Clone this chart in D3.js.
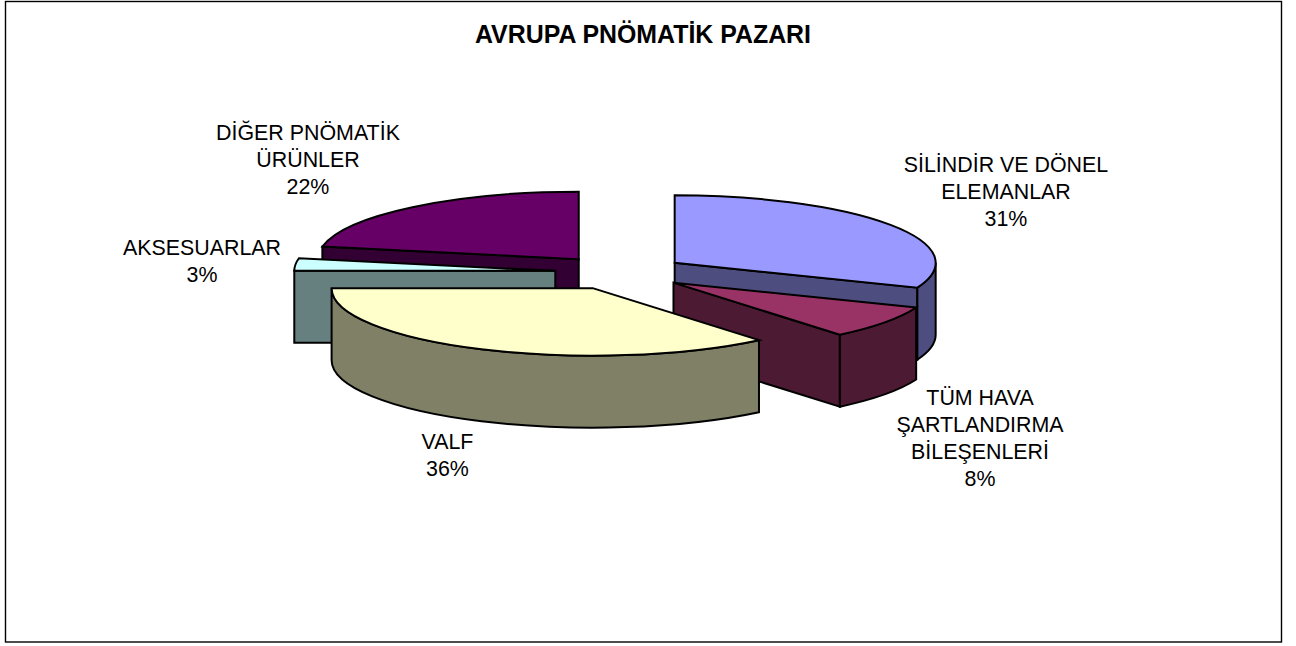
<!DOCTYPE html>
<html lang="tr">
<head>
  <meta charset="utf-8" />
  <title>AVRUPA PNÖMATİK PAZARI</title>
  <script src="https://cdn.jsdelivr.net/npm/d3@7"></script>
  <style>
html, body { margin: 0; padding: 0; background: #fff; }
svg { display: block; }
text { font-family: "Liberation Sans", Arial, sans-serif; fill: #000; }
  </style>
</head>
<body>
  <svg></svg>
  <script>
  const chartTitle = 'AVRUPA PNÖMATİK PAZARI';
  const categories = ['SİLİNDİR VE DÖNEL ELEMANLAR', 'TÜM HAVA ŞARTLANDIRMA BİLEŞENLERİ', 'VALF', 'AKSESUARLAR', 'DİĞER PNÖMATİK ÜRÜNLER'];
  const values = [31, 8, 36, 3, 22];
  const labelLines = [
    ['SİLİNDİR VE DÖNEL', 'ELEMANLAR'],
    ['TÜM HAVA', 'ŞARTLANDIRMA', 'BİLEŞENLERİ'],
    ['VALF'],
    ['AKSESUARLAR'],
    ['DİĞER PNÖMATİK', 'ÜRÜNLER']
  ];
  const topColors = ['#9999ff', '#993366', '#ffffcc', '#ccffff', '#660066'];
  const wallColors = ['#4d4d80', '#4d1a33', '#808066', '#668080', '#330033'];

  const width = 1296, height = 646;
  const cx = 620.5, cy = 272.5, rx = 261, ry = 67.5, depth = 72, explode = 65.5;
  // label centre x and first baseline y, same order as categories
  const labelPos = [[1006, 172], [980, 405], [447.5, 449], [202, 255], [308, 140]];
  // back to front
  const drawOrder = [4, 0, 3, 1, 2];

  const svg = d3.select('svg').attr('width', width).attr('height', height);

  svg.append('rect')
      .attr('x', 5.5).attr('y', 1.5)
      .attr('width', 1276).attr('height', 640.5)
      .attr('fill', '#fff')
      .attr('stroke', '#000')
      .attr('stroke-width', 1.4);

  svg.append('text')
      .attr('x', 643).attr('y', 43)
      .attr('text-anchor', 'middle')
      .attr('font-size', 24.9)
      .attr('font-weight', 'bold')
      .text(chartTitle);

  const pie = d3.pie().sort(null);
  const arcs = pie(values);

  function slicePaths(d){
    let mid = (d.startAngle + d.endAngle) / 2;
    let ax = cx + explode * Math.sin(mid),
        ay = cy - 17.3 * Math.cos(mid);
    let pt = a => [ax + rx * Math.sin(a), ay - ry * Math.cos(a)];
    let ellipse = (p, sweep, big) => `A${rx},${ry} 0 ${big} ${sweep} ${p[0]},${p[1]}`;
    let p0 = pt(d.startAngle), p1 = pt(d.endAngle);
    let big = d.endAngle - d.startAngle > Math.PI ? 1 : 0;
    let paths = [];

    let radial = p => `M${ax},${ay}L${p[0]},${p[1]}L${p[0]},${p[1] + depth}L${ax},${ay + depth}Z`;
    if(Math.sin(d.startAngle) < -1e-6) paths.push({d: radial(p0), wall: true});
    if(Math.sin(d.endAngle) > 1e-6) paths.push({d: radial(p1), wall: true});

    // outer wall, only the part on the front half of the ellipse
    let a0 = Math.max(d.startAngle, Math.PI / 2),
        a1 = Math.min(d.endAngle, 3 * Math.PI / 2);
    if(a1 > a0){
      let q0 = pt(a0), q1 = pt(a1);
      paths.push({
        d: `M${q0[0]},${q0[1]}${ellipse(q1, 1, 0)}L${q1[0]},${q1[1] + depth}` +
           `A${rx},${ry} 0 0 0 ${q0[0]},${q0[1] + depth}Z`,
        wall: true
      });
    }

    paths.push({d: `M${ax},${ay}L${p0[0]},${p0[1]}${ellipse(p1, 1, big)}Z`, wall: false});
    return paths;
  }

  drawOrder.forEach(i => {
    svg.append('g').selectAll('path')
      .data(slicePaths(arcs[i]))
      .enter().append('path')
        .attr('d', d => d.d)
        .attr('fill', d => d.wall ? wallColors[i] : topColors[i])
        .attr('stroke', '#000')
        .attr('stroke-width', 2)
        .attr('stroke-linejoin', 'miter');
  });

  const lineHeight = 27;
  categories.forEach((c, i) => {
    let lines = labelLines[i].concat([values[i] + '%']);
    let t = svg.append('text')
        .attr('x', labelPos[i][0]).attr('y', labelPos[i][1])
        .attr('text-anchor', 'middle')
        .attr('font-size', 21.4);
    lines.forEach((l, j) => {
      t.append('tspan')
        .attr('x', labelPos[i][0])
        .attr('y', labelPos[i][1] + j * lineHeight)
        .text(l);
    });
  });
  </script>
</body>
</html>
